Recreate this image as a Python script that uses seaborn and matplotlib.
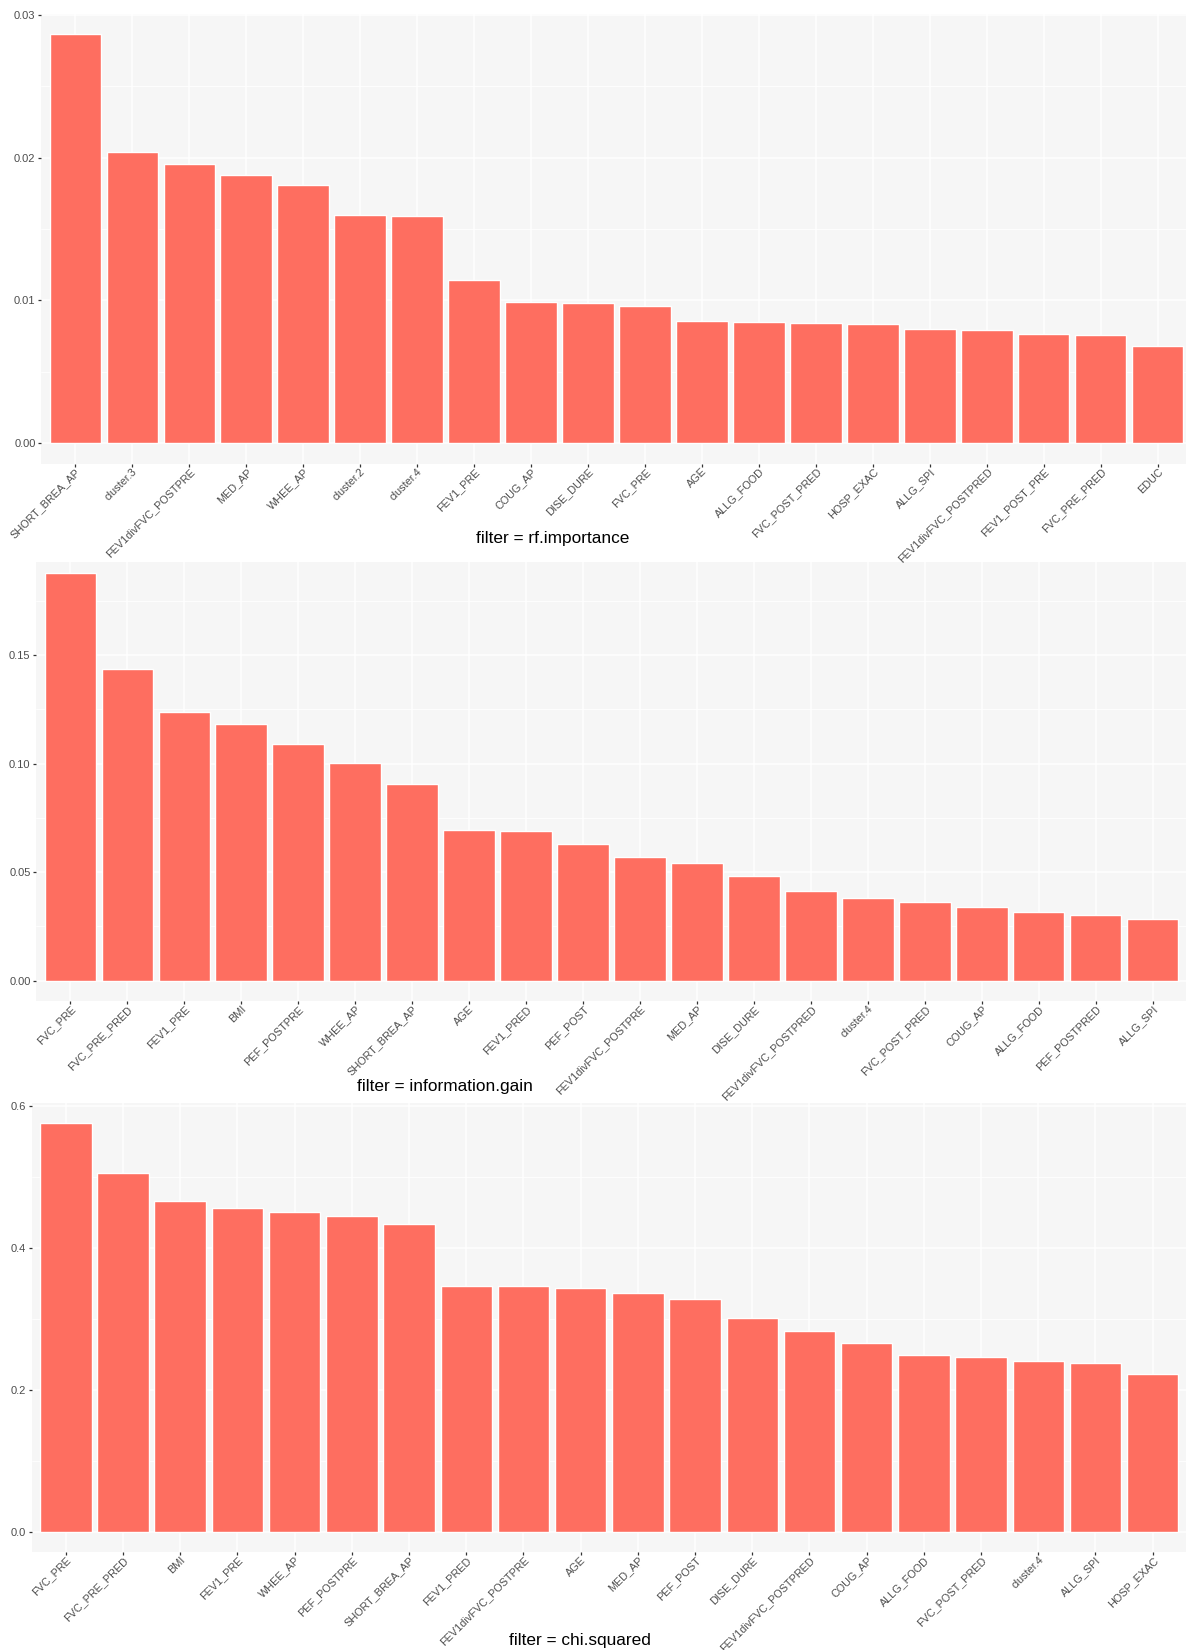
import matplotlib
matplotlib.use("Agg")
import matplotlib.pyplot as plt
from matplotlib.ticker import MultipleLocator
import seaborn as sns
import pandas as pd

# Feature-importance scores, one list per filter method (sorted, descending)
rf_features = ["SHORT_BREA_AP", "cluster.3", "FEV1divFVC_POSTPRE", "MED_AP", "WHEE_AP",
               "cluster.2", "cluster.4", "FEV1_PRE", "COUG_AP", "DISE_DURE",
               "FVC_PRE", "AGE", "ALLG_FOOD", "FVC_POST_PRED", "HOSP_EXAC",
               "ALLG_SPI", "FEV1divFVC_POSTPRED", "FEV1_POST_PRE", "FVC_PRE_PRED", "EDUC"]
rf_values = [0.02867, 0.02041, 0.01953, 0.01879, 0.01805,
             0.01599, 0.01592, 0.01142, 0.00987, 0.00980,
             0.00958, 0.00855, 0.00847, 0.00840, 0.00833,
             0.00796, 0.00789, 0.00766, 0.00759, 0.00678]

ig_features = ["FVC_PRE", "FVC_PRE_PRED", "FEV1_PRE", "BMI", "PEF_POSTPRE",
               "WHEE_AP", "SHORT_BREA_AP", "AGE", "FEV1_PRED", "PEF_POST",
               "FEV1divFVC_POSTPRE", "MED_AP", "DISE_DURE", "FEV1divFVC_POSTPRED", "cluster.4",
               "FVC_POST_PRED", "COUG_AP", "ALLG_FOOD", "PEF_POSTPRED", "ALLG_SPI"]
ig_values = [0.1879, 0.1437, 0.1238, 0.1184, 0.1092,
             0.1005, 0.0908, 0.0694, 0.0689, 0.0631,
             0.0568, 0.0544, 0.0481, 0.0413, 0.0383,
             0.0364, 0.0340, 0.0316, 0.0301, 0.0282]

chi_features = ["FVC_PRE", "FVC_PRE_PRED", "BMI", "FEV1_PRE", "WHEE_AP",
                "PEF_POSTPRE", "SHORT_BREA_AP", "FEV1_PRED", "FEV1divFVC_POSTPRE", "AGE",
                "MED_AP", "PEF_POST", "DISE_DURE", "FEV1divFVC_POSTPRED", "COUG_AP",
                "ALLG_FOOD", "FVC_POST_PRED", "cluster.4", "ALLG_SPI", "HOSP_EXAC"]
chi_values = [0.5748, 0.5052, 0.4652, 0.4563, 0.4504,
              0.4444, 0.4326, 0.3452, 0.3452, 0.3437,
              0.3363, 0.3274, 0.3007, 0.2830, 0.2652,
              0.2489, 0.2459, 0.2400, 0.2370, 0.2222]

W, H = 1186, 1650
BAR = "#FE6E60"
PANEL_BG = "#F6F6F6"
TICK_COL = "#4D4D4D"
FONT = ["Liberation Sans", "DejaVu Sans"]

sns.set_theme(style="white")
plt.rcParams["font.family"] = FONT

fig = plt.figure(figsize=(W / 100, H / 100), dpi=100)


def add_panel(left, top, right, bottom, z):
    ax = fig.add_axes([left / W, 1 - bottom / H, (right - left) / W, (bottom - top) / H])
    ax.set_zorder(z)
    return ax


def draw(ax, feats, vals, major, minor, fmt, top_expand):
    df = pd.DataFrame({"feature": feats, "score": vals})
    sns.barplot(data=df, x="feature", y="score", color=BAR, saturation=1,
                width=0.9, ax=ax, zorder=3)
    vmax = max(vals)
    ax.set_xlim(-0.6, len(feats) - 0.4)
    ax.set_ylim(-0.05 * vmax, vmax * (1 + top_expand))
    ax.set_facecolor(PANEL_BG)
    for s in ax.spines.values():
        s.set_visible(False)
    ax.yaxis.set_major_locator(MultipleLocator(major))
    ax.yaxis.set_minor_locator(MultipleLocator(minor))
    ax.yaxis.set_major_formatter(plt.FuncFormatter(lambda v, p: fmt.format(v)))
    ax.grid(which="major", axis="both", color="white", linewidth=1.1, zorder=0)
    ax.grid(which="minor", axis="y", color="white", linewidth=0.6, zorder=0)
    ax.set_axisbelow(True)
    ax.tick_params(axis="both", which="major", length=2.4, width=0.9,
                   color="#333333", labelcolor=TICK_COL, direction="out",
                   bottom=True, left=True, pad=1.5)
    ax.tick_params(axis="x", pad=-0.3)
    ax.tick_params(axis="y", which="minor", length=0)
    ax.tick_params(axis="y", labelsize=8)
    ax.set_xticks(range(len(feats)))
    ax.set_xticklabels(feats, rotation=45, ha="right", va="top",
                       rotation_mode="anchor", fontsize=7.8, color=TICK_COL)
    ax.set_xlabel("")
    ax.set_ylabel("")


# upper panels sit above lower ones so long rotated labels stay visible
ax1 = add_panel(41, 13.5, 1192, 463.5, 3)
draw(ax1, rf_features, rf_values, 0.01, 0.005, "{:.2f}", 0.05)

ax2 = add_panel(36, 562, 1187, 1001, 2)
draw(ax2, ig_features, ig_values, 0.05, 0.025, "{:.2f}", 0.027)

ax3 = add_panel(31.5, 1103, 1187, 1552, 1)
draw(ax3, chi_features, chi_values, 0.2, 0.1, "{:.1f}", 0.05)

fig.text(553 / W, 1 - 539 / H, "filter = rf.importance", ha="center", va="center",
         fontsize=12.4, color="black", zorder=10)
fig.text(445 / W, 1 - 1087 / H, "filter = information.gain", ha="center", va="center",
         fontsize=12.4, color="black", zorder=10)
fig.text(580 / W, 1 - 1641 / H, "filter = chi.squared", ha="center", va="center",
         fontsize=12.4, color="black", zorder=10)

fig.savefig("out.png", dpi=100)
